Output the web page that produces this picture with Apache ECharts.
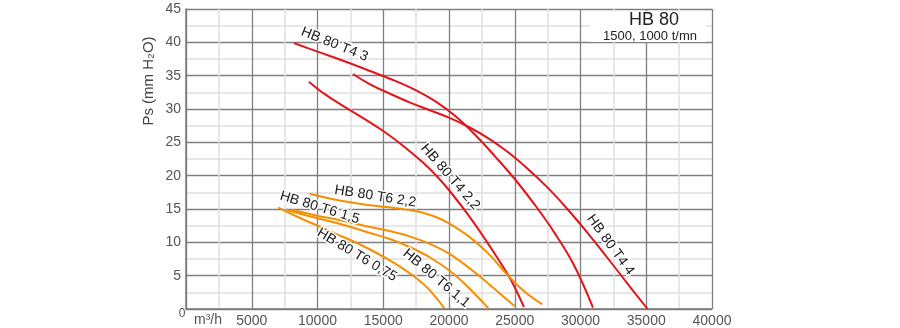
<!DOCTYPE html>
<html>
<head>
<meta charset="utf-8">
<script src="https://cdn.jsdelivr.net/npm/echarts@6/dist/echarts.min.js"></script>
<style>
html,body{margin:0;padding:0;background:#fff;}
#c{width:900px;height:328px;}
</style>
</head>
<body>
<div id="c"></div>
<script>
// ---- axis ranges ----
const xMin = 0, xMax = 40000, xStep = 5000;
const yMin = 0, yMax = 45, yStep = 5;

// ---- curves: [flow m3/h, Ps mm H2O] ----
const t4_3 = [[8200,39.9],[10000,38.6],[12000,37.2],[14000,35.7],[16000,34.15],[17500,32.8],[19000,31.1],[20500,28.9],[22000,26.1],[23500,22.9],[25000,19.5],[26500,15.7],[28000,11.5],[29500,6.6],[30950,0.2]];
const t4_4 = [[12700,35.25],[14000,33.7],[15500,32.3],[17000,31.0],[18500,29.85],[20000,28.7],[21500,27.3],[23000,25.6],[24500,23.5],[26000,21.0],[27500,18.2],[29000,15.0],[30500,11.5],[32000,7.8],[33500,4.0],[35100,0]];
const t4_22 = [[9350,34.1],[10500,32.3],[12000,30.4],[13500,28.6],[15000,26.7],[16500,24.5],[18000,22.0],[19200,19.65],[20300,17.1],[21500,14.0],[22600,10.9],[23700,7.6],[24700,4.4],[25700,0.3]];
const t6_22 = [[9400,17.3],[11000,16.55],[12500,16.0],[14000,15.55],[15500,15.25],[17000,14.85],[18000,14.45],[19000,13.8],[20000,12.85],[21500,10.9],[23000,8.3],[24500,5.0],[25800,2.5],[27100,0.7]];
const t6_15 = [[8000,14.9],[10000,14.0],[12000,13.2],[14000,12.3],[15500,11.7],[17000,10.9],[18500,9.8],[20000,8.3],[21500,6.2],[23000,3.8],[24000,2.1],[25000,0.4]];
const t6_11 = [[7700,14.8],[10000,13.6],[12000,12.6],[14000,11.4],[15500,10.5],[17000,9.3],[18500,7.8],[20000,5.8],[21500,3.2],[23000,0.1]];
const t6_075 = [[7000,15.2],[8500,13.8],[10000,12.5],[11500,11.2],[13000,9.9],[14500,8.4],[16000,6.7],[17200,5.1],[18400,3.1],[19650,0.1]];

// ---- curve labels: text, anchor [x, y] in data units, angle (deg) ----
const labelTexts = ['HB 80 T4 3','HB 80 T4 2,2','HB 80 T4 4','HB 80 T6 2,2','HB 80 T6 1,5','HB 80 T6 0,75','HB 80 T6 1,1'];
const labelAnchors = [[11300,39.7],[20100,19.8],[32280,9.6],[14400,16.9],[10170,15.2],[13000,8.1],[19040,4.6]];
const labelAngles = [-22,-49,-54,-9,-17,-31,-40];

const titleText = 'HB 80';
const subtitleText = '1500, 1000 t/mn';
const yName = 'Ps (mm H\u2082O)';
const xUnit = 'm\u00B3/h';

const RED = '#e3141b', ORANGE = '#f39000';
const FONT = 'Liberation Sans, Arial, sans-serif';

const chart = echarts.init(document.getElementById('c'), null, {renderer:'canvas'});

function curve(name, data, color){
  return {name, type:'line', data, smooth:0.4, showSymbol:false, symbol:'none',
    lineStyle:{color, width:2}, itemStyle:{color}, z:3, animation:false};
}

chart.setOption({
  animation:false,
  backgroundColor:'#fff',
  grid:{left:186, top:9, width:526, height:300},
  xAxis:{type:'value', min:xMin, max:xMax, interval:xStep,
    axisLine:{show:true, lineStyle:{color:'#7a7a7a', width:1.5}},
    axisTick:{show:false},
    axisLabel:{color:'#555', fontSize:14, fontFamily:FONT, margin:5,
      formatter:v => v === 0 ? '' : String(v)},
    splitLine:{show:true, lineStyle:{color:'#7f7f7f', width:1.3}},
    minorTick:{show:false, splitNumber:2},
    minorSplitLine:{show:true, lineStyle:{color:'#e0e0e0', width:1.5}}
  },
  yAxis:{type:'value', min:yMin, max:yMax, interval:yStep,
    axisLine:{show:true, lineStyle:{color:'#7a7a7a', width:1.5}},
    axisTick:{show:false},
    axisLabel:{color:'#555', fontSize:14, fontFamily:FONT, margin:5,
      formatter:v => v === 0 ? '' : String(v)},
    splitLine:{show:true, lineStyle:{color:'#7f7f7f', width:1.3}},
    minorTick:{show:false, splitNumber:2},
    minorSplitLine:{show:true, lineStyle:{color:'#e0e0e0', width:1.5}}
  },
  series:[
    curve('T4 3', t4_3, RED),
    curve('T4 4', t4_4, RED),
    curve('T4 2,2', t4_22, RED),
    curve('T6 2,2', t6_22, ORANGE),
    curve('T6 1,5', t6_15, ORANGE),
    curve('T6 1,1', t6_11, ORANGE),
    curve('T6 0,75', t6_075, ORANGE)
  ]
});

const g = [];
// title box
g.push({type:'rect', shape:{x:590, y:11, width:116, height:31}, style:{fill:'#fff'}, z:1});
g.push({type:'text', x:654, y:20, z:5, style:{text:titleText, fontSize:18, fontFamily:FONT, fill:'#222', align:'center', verticalAlign:'middle'}});
g.push({type:'text', x:650, y:36, z:5, style:{text:subtitleText, fontSize:13, fontFamily:FONT, fill:'#222', align:'center', verticalAlign:'middle'}});
// y name
g.push({type:'text', x:149, y:81, rotation:Math.PI/2, z:5, style:{text:yName, fontSize:15, fontFamily:FONT, fill:'#444', align:'center', verticalAlign:'middle'}});
// x zero and unit
g.push({type:'text', x:182, y:314, z:5, style:{text:'0', fontSize:12, fontFamily:FONT, fill:'#555', align:'center', verticalAlign:'middle'}});
g.push({type:'text', x:194, y:320, z:5, style:{text:xUnit, fontSize:14, fontFamily:FONT, fill:'#555', align:'left', verticalAlign:'middle'}});
// curve labels
labelTexts.forEach((t,i) => {
  const p = chart.convertToPixel({gridIndex:0}, labelAnchors[i]);
  g.push({type:'text', x:p[0], y:p[1], rotation:labelAngles[i]*Math.PI/180, z:6,
    style:{text:t, fontSize:14, fontFamily:FONT, fill:'#1a1a1a', align:'center', verticalAlign:'middle', stroke:'#fff', lineWidth:3}});
});
chart.setOption({graphic:g});
</script>
</body>
</html>
